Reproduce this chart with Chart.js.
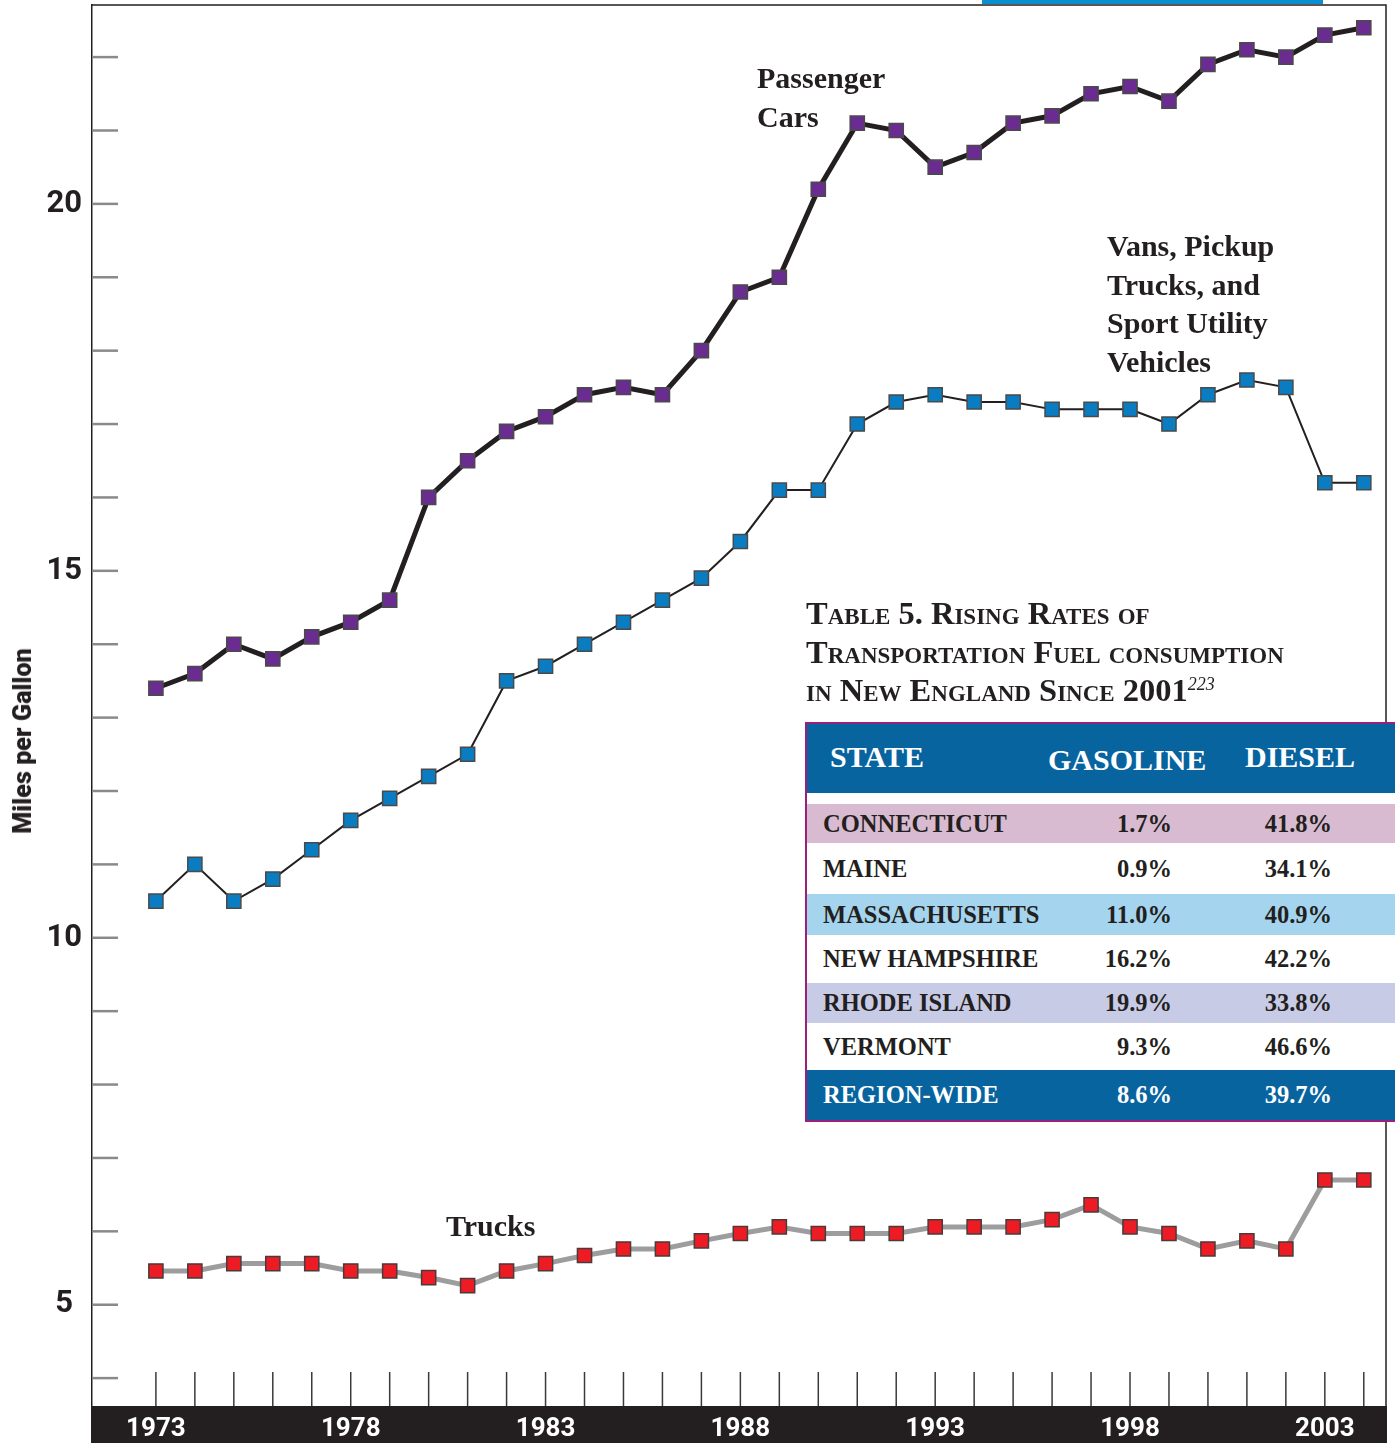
<!DOCTYPE html>
<html lang="en">
<head>
<meta charset="UTF-8">
<title>Miles per Gallon</title>
<script src="https://cdn.jsdelivr.net/npm/chart.js@4.4.0/dist/chart.umd.min.js"></script>
<style>
  body { margin: 0; width: 1395px; height: 1443px; overflow: hidden; background: #fff; position: relative; }
  #wrap { position: absolute; left: 0; top: 0; width: 1395px; height: 1443px; }
  .serif { font-family: 'Liberation Serif', 'Times New Roman', serif; font-weight: bold; color: #231f20; white-space: nowrap; }
  .note { position: absolute; font-size: 30px; line-height: 38.5px; }
  #ytitle { position: absolute; left: 22px; top: 741px; transform: translate(-50%, -50%) rotate(-90deg) scaleX(0.97);
    font-family: Roboto, 'DejaVu Sans', sans-serif; font-weight: 900; font-size: 26px; color: #231f20; white-space: nowrap; }
  #ttitle { position: absolute; left: 806px; top: 594px; font-size: 32.5px; line-height: 38.5px; font-variant: small-caps; }
  #ttitle sup { font-size: 18px; font-weight: normal; font-style: italic; font-variant: normal; vertical-align: 11px; line-height: 0; }
  #tbl { position: absolute; left: 805px; top: 722px; width: 620px; height: 396px; border: 2px solid #9c1f7e; background: #fff; }
  #tbl .band { position: absolute; left: 0; right: 0; }
  #tbl .t { position: absolute; line-height: 30px; }
  #tbl .h { color: #fff; font-size: 30px; }
  #tbl .r { font-size: 24.5px; }
</style>
</head>
<body>
<div id="wrap"><canvas id="chart"></canvas></div>

<div id="ytitle">Miles per Gallon</div>

<div class="serif note" style="left:757px; top:59px;">Passenger<br>Cars</div>
<div class="serif note" style="left:1107px; top:227px;">Vans, Pickup<br>Trucks, and<br>Sport Utility<br>Vehicles</div>
<div class="serif note" style="left:446px; top:1207px;">Trucks</div>

<div id="ttitle" class="serif">Table 5. Rising Rates of<br>Transportation Fuel consumption<br>in New England Since 2001<sup>223</sup></div>

<div id="tbl" class="serif"></div>

<script>
// years on the x axis
const years = [1973, 1974, 1975, 1976, 1977, 1978, 1979, 1980, 1981, 1982, 1983, 1984, 1985, 1986, 1987, 1988,
               1989, 1990, 1991, 1992, 1993, 1994, 1995, 1996, 1997, 1998, 1999, 2000, 2001, 2002, 2003, 2004];

// miles per gallon
const passengerCars = [13.4, 13.6, 14.0, 13.8, 14.1, 14.3, 14.6, 16.0, 16.5, 16.9, 17.1, 17.4, 17.5, 17.4, 18.0, 18.8,
                       19.0, 20.2, 21.1, 21.0, 20.5, 20.7, 21.1, 21.2, 21.5, 21.6, 21.4, 21.9, 22.1, 22.0, 22.3, 22.4];
const vansPickupsSuvs = [10.5, 11.0, 10.5, 10.8, 11.2, 11.6, 11.9, 12.2, 12.5, 13.5, 13.7, 14.0, 14.3, 14.6, 14.9, 15.4,
                         16.1, 16.1, 17.0, 17.3, 17.4, 17.3, 17.3, 17.2, 17.2, 17.2, 17.0, 17.4, 17.6, 17.5, 16.2, 16.2];
const trucks = [5.46, 5.46, 5.56, 5.56, 5.56, 5.46, 5.46, 5.37, 5.26, 5.46, 5.56, 5.67, 5.76, 5.76, 5.87, 5.97,
                6.06, 5.97, 5.97, 5.97, 6.06, 6.06, 6.06, 6.16, 6.36, 6.06, 5.97, 5.76, 5.87, 5.76, 6.7, 6.7];

// axis ticks
const yTickMarks = [4, 5, 6, 7, 8, 9, 10, 11, 12, 13, 14, 15, 16, 17, 18, 19, 20, 21, 22];
const yTickLabels = [5, 10, 15, 20];
const xTickLabels = [1973, 1978, 1983, 1988, 1993, 1998, 2003];

// table 5
const tableHeader = ['STATE', 'GASOLINE', 'DIESEL'];
const states = ['CONNECTICUT', 'MAINE', 'MASSACHUSETTS', 'NEW HAMPSHIRE', 'RHODE ISLAND', 'VERMONT', 'REGION-WIDE'];
const gasoline = ['1.7%', '0.9%', '11.0%', '16.2%', '19.9%', '9.3%', '8.6%'];
const diesel = ['41.8%', '34.1%', '40.9%', '42.2%', '33.8%', '46.6%', '39.7%'];

// build the table
const rowBands = [[80, 39, '#d8bbd0'], [119, 51, '#fff'], [170, 41, '#a5d4ee'], [211, 48, '#fff'],
                  [259, 40, '#c8cbe6'], [299, 47, '#fff'], [346, 50, '#08649f']];
const tbl = document.getElementById('tbl');
let html = '<div class="band" style="top:0;height:69px;background:#08649f"></div>';
html += '<div class="t h" style="left:23px;top:18px">' + tableHeader[0] + '</div>';
html += '<div class="t h" style="left:241px;top:21px">' + tableHeader[1] + '</div>';
html += '<div class="t h" style="left:438px;top:18px">' + tableHeader[2] + '</div>';
states.forEach((s, i) => {
  const [top, h, bg] = rowBands[i];
  const color = i === states.length - 1 ? '#fff' : '#231f20';
  const ty = top + h / 2 - 15;
  html += '<div class="band" style="top:' + top + 'px;height:' + h + 'px;background:' + bg + '"></div>';
  html += '<div class="t r" style="left:16px;top:' + ty + 'px;color:' + color + '">' + s + '</div>';
  html += '<div class="t r" style="left:245px;width:120px;text-align:right;top:' + ty + 'px;color:' + color + '">' + gasoline[i] + '</div>';
  html += '<div class="t r" style="left:405px;width:120px;text-align:right;top:' + ty + 'px;color:' + color + '">' + diesel[i] + '</div>';
});
tbl.innerHTML = html;

const axisFont = "Roboto, 'DejaVu Sans', sans-serif";

// frame, black year band and the short inward tick marks
const frame = {
  id: 'frame',
  beforeDraw(chart) {
    const { ctx, chartArea: a } = chart;
    ctx.save();
    ctx.fillStyle = '#fff';
    ctx.fillRect(0, 0, chart.width, chart.height);
    ctx.fillStyle = '#231f20';
    ctx.fillRect(a.left - 1, a.bottom, a.right - a.left + 2, chart.height - a.bottom);
    ctx.fillStyle = '#0a8fd0';
    ctx.fillRect(982, 0, 341, 4);
    ctx.restore();
  },
  beforeDatasetsDraw(chart) {
    const { ctx, chartArea: a, scales: { x, y } } = chart;
    ctx.save();
    ctx.strokeStyle = '#8a8a8a';
    ctx.lineWidth = 2.5;
    yTickMarks.forEach(v => {
      const py = y.getPixelForValue(v);
      ctx.beginPath(); ctx.moveTo(a.left, py); ctx.lineTo(a.left + 26, py); ctx.stroke();
    });
    ctx.strokeStyle = '#3a3a3a';
    ctx.lineWidth = 1.5;
    years.forEach(yr => {
      const px = x.getPixelForValue(yr);
      ctx.beginPath(); ctx.moveTo(px, a.bottom - 34); ctx.lineTo(px, a.bottom); ctx.stroke();
    });
    ctx.strokeStyle = '#231f20';
    ctx.lineWidth = 1.5;
    ctx.beginPath();
    ctx.moveTo(a.left, a.top); ctx.lineTo(a.right, a.top); ctx.lineTo(a.right, a.bottom);
    ctx.stroke();
    ctx.restore();
  }
};

function series(vals) {
  return years.map((yr, i) => ({ x: yr, y: vals[i] }));
}

new Chart(document.getElementById('chart'), {
  type: 'line',
  data: {
    datasets: [
      {
        label: 'Trucks',
        data: series(trucks),
        borderColor: '#9d9d9d', borderWidth: 5,
        pointStyle: 'rect', pointRadius: 10, pointBackgroundColor: '#ed1c24',
        pointBorderColor: '#4a3a3a', pointBorderWidth: 1.5
      },
      {
        label: 'Vans, Pickup Trucks, and Sport Utility Vehicles',
        data: series(vansPickupsSuvs),
        borderColor: '#231f20', borderWidth: 2,
        pointStyle: 'rect', pointRadius: 10, pointBackgroundColor: '#0a7dc2',
        pointBorderColor: '#4a4a4a', pointBorderWidth: 1.5
      },
      {
        label: 'Passenger Cars',
        data: series(passengerCars),
        borderColor: '#231f20', borderWidth: 5,
        pointStyle: 'rect', pointRadius: 10, pointBackgroundColor: '#6a2c91',
        pointBorderColor: '#4a4a4a', pointBorderWidth: 1.5
      }
    ]
  },
  options: {
    responsive: true,
    maintainAspectRatio: false,
    animation: false,
    layout: { autoPadding: false, padding: { top: 5, right: 9, left: 0, bottom: 0 } },
    plugins: { legend: { display: false }, tooltip: { enabled: false } },
    scales: {
      x: {
        type: 'linear', min: 1971.36, max: 2004.57,
        afterFit(s) { s.height = 37; s.paddingLeft = 0; s.paddingRight = 0; },
        afterBuildTicks(s) { s.ticks = xTickLabels.map(v => ({ value: v })); },
        grid: { display: false, drawTicks: false },
        border: { display: false },
        ticks: {
          color: '#fff', padding: 8, maxRotation: 0, autoSkip: false,
          font: { family: axisFont, size: 26, weight: 'bold' },
          callback: v => String(v)
        }
      },
      y: {
        type: 'linear', min: 3.62, max: 22.71,
        afterFit(s) { s.width = 92; s.paddingTop = 0; s.paddingBottom = 0; },
        afterBuildTicks(s) { s.ticks = yTickLabels.map(v => ({ value: v })); },
        grid: { display: false, drawTicks: false },
        border: { display: true, color: '#231f20', width: 1.5 },
        ticks: {
          color: '#231f20', padding: 10, crossAlign: 'center', autoSkip: false,
          font: { family: axisFont, size: 31, weight: 'bold' },
          callback: v => String(v)
        }
      }
    }
  },
  plugins: [frame]
});
</script>
</body>
</html>
